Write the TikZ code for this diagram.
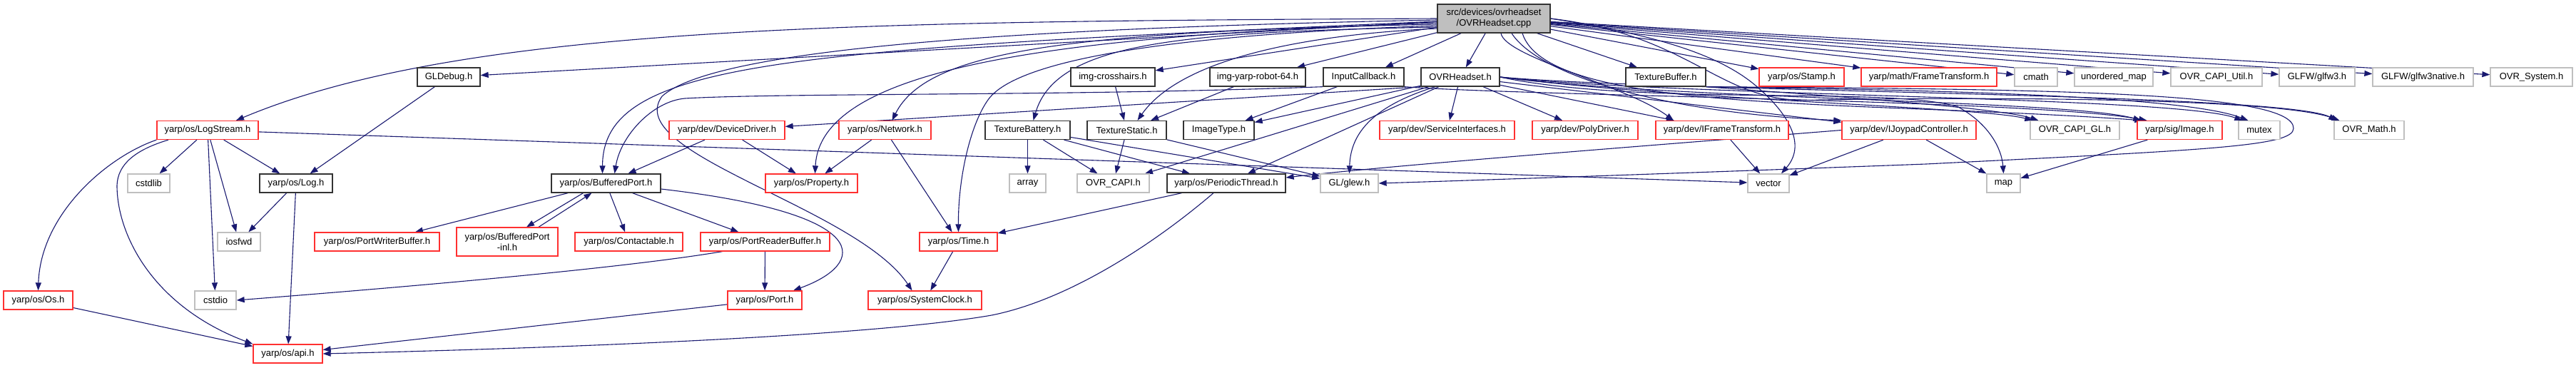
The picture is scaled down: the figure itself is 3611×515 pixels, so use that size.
\documentclass[tikz,border=0pt]{standalone}
\usepackage{fontspec}
\setmainfont{Liberation Sans}
\usetikzlibrary{arrows.meta}
\definecolor{edgeblue}{HTML}{191970}
\definecolor{truncred}{HTML}{FF3030}
\definecolor{sysgray}{HTML}{BFBFBF}
\pgfdeclarelayer{back}
\pgfdeclarelayer{edges}
\pgfsetlayers{back,edges,main}

\begin{document}
\begin{tikzpicture}[
    x=1pt, y=-1pt,
    font=\fontsize{13}{15}\selectfont,
    hdr/.style={draw=black!80, fill=white, line width=1.3pt, minimum height=26pt, inner sep=2pt},
    trunc/.style={hdr, draw=truncred},
    sys/.style={hdr, draw=sysgray},
    wd/.style={minimum width=#1pt},
    dep/.style={draw=edgeblue, line width=1.1pt, -{Triangle[length=11pt,width=8pt]}}
]
\useasboundingbox (0,0) rectangle (3611,515);
\begin{pgfonlayer}{back}
\fill[white] (0,0) rectangle (3611,515);
\end{pgfonlayer}

\node[hdr, fill=sysgray, wd=158, minimum height=40pt, align=center] (top) at (2094,26) {src/devices/ovrheadset\\/OVRHeadset.cpp};

\node[hdr, wd=88] (gldebug) at (629,108) {GLDebug.h};
\node[hdr, wd=118] (imgcross) at (1560,108) {img-crosshairs.h};
\node[hdr, wd=134] (imgrobot) at (1763,108) {img-yarp-robot-64.h};
\node[hdr, wd=113] (inputcb) at (1911.5,108) {InputCallback.h};
\node[hdr, wd=110] (ovrh) at (2047,108) {OVRHeadset.h};
\node[hdr, wd=112] (texbuf) at (2335,108) {TextureBuffer.h};
\node[trunc, wd=119] (stamp) at (2525.5,108) {yarp/os/Stamp.h};
\node[trunc, wd=190] (frametf) at (2704,108) {yarp/math/FrameTransform.h};
\node[sys, wd=60] (cmath) at (2854,108) {cmath};
\node[sys, wd=110] (umap) at (2963,108) {unordered\_map};
\node[sys, wd=128] (capiutil) at (3107,108) {OVR\_CAPI\_Util.h};
\node[sys, wd=106] (glfw) at (3248,108) {GLFW/glfw3.h};
\node[sys, wd=141] (glfwnat) at (3396.5,108) {GLFW/glfw3native.h};
\node[sys, wd=115] (ovrsys) at (3548.5,108) {OVR\_System.h};

\node[trunc, wd=142] (logstream) at (291,182.5) {yarp/os/LogStream.h};
\node[trunc, wd=162] (devdrv) at (1019,182.5) {yarp/dev/DeviceDriver.h};
\node[trunc, wd=129] (network) at (1240.5,182.5) {yarp/os/Network.h};
\node[hdr, wd=119] (texbat) at (1440.5,182.5) {TextureBattery.h};
\node[hdr, wd=111] (texstat) at (1579.5,182.5) {TextureStatic.h};
\node[hdr, wd=99] (imgtype) at (1708.5,182.5) {ImageType.h};
\node[trunc, wd=189] (servif) at (2028.5,182.5) {yarp/dev/ServiceInterfaces.h};
\node[trunc, wd=148] (polydrv) at (2222,182.5) {yarp/dev/PolyDriver.h};
\node[trunc, wd=186] (iframetf) at (2414,182.5) {yarp/dev/IFrameTransform.h};
\node[trunc, wd=188] (ijoypad) at (2676,182.5) {yarp/dev/IJoypadController.h};
\node[sys, wd=125] (capigl) at (2908.5,182.5) {OVR\_CAPI\_GL.h};
\node[trunc, wd=119] (sigimage) at (3055.5,182.5) {yarp/sig/Image.h};
\node[sys, wd=58] (mutex) at (3167,182.5) {mutex};
\node[sys, wd=98] (ovrmath) at (3321,182.5) {OVR\_Math.h};

\node[sys, wd=59] (cstdlib) at (208.5,257) {cstdlib};
\node[hdr, wd=102] (logh) at (415,257) {yarp/os/Log.h};
\node[hdr, wd=153] (bufport) at (849.5,257) {yarp/os/BufferedPort.h};
\node[trunc, wd=129] (property) at (1137.5,257) {yarp/os/Property.h};
\node[sys, wd=51] (array) at (1440.5,257) {array};
\node[sys, wd=101] (ovrcapi) at (1560.5,257) {OVR\_CAPI.h};
\node[hdr, wd=166] (pthread) at (1719,257) {yarp/os/PeriodicThread.h};
\node[sys, wd=81] (glew) at (1891.5,257) {GL/glew.h};
\node[sys, wd=58] (vector) at (2479,257) {vector};
\node[sys, wd=47] (map) at (2808.5,257) {map};

\node[sys, wd=60] (iosfwd) at (335,339) {iosfwd};
\node[trunc, wd=175] (pwbuf) at (528.5,339) {yarp/os/PortWriterBuffer.h};
\node[trunc, wd=142, minimum height=40pt, align=center] (bpinl) at (711,339) {yarp/os/BufferedPort\\-inl.h};
\node[trunc, wd=151] (contact) at (881.5,339) {yarp/os/Contactable.h};
\node[trunc, wd=181] (prbuf) at (1072.5,339) {yarp/os/PortReaderBuffer.h};
\node[trunc, wd=109] (time) at (1343.5,339) {yarp/os/Time.h};

\node[trunc, wd=97] (osh) at (53.5,421) {yarp/os/Os.h};
\node[sys, wd=58] (cstdio) at (302,421) {cstdio};
\node[trunc, wd=104] (port) at (1072,421) {yarp/os/Port.h};
\node[trunc, wd=159] (sysclock) at (1296.5,421) {yarp/os/SystemClock.h};

\node[trunc, wd=97] (api) at (403.5,496) {yarp/os/api.h};

\begin{pgfonlayer}{edges}
\draw[dep] (top) -- (gldebug);
\draw[dep] (top.west) .. controls (1200,30) and (650,35) .. ([xshift=40pt]logstream.north);
\draw[dep] ([yshift=-4pt]top.west) .. controls (1100,70) and (845,85) .. ([xshift=-5pt]bufport.north);
\draw[dep] ([yshift=-2pt]top.west) .. controls (1400,40) and (1000,70) .. (928,135) .. controls (870,215) and (1200,290) .. ([xshift=-18pt]sysclock.north);
\draw[dep] ([yshift=-6pt]top.west) .. controls (1500,50) and (1150,90) .. ([xshift=5pt]property.north);
\draw[dep] ([yshift=-8pt]top.west) .. controls (1500,45) and (1300,70) .. ([xshift=10pt]network.north);
\draw[dep] ([yshift=-10pt]top.west) .. controls (1600,50) and (1420,90) .. (1385,140) .. controls (1360,175) and (1343,250) .. (time.north);
\draw[dep] ([yshift=-12pt]top.west) .. controls (1650,45) and (1480,60) .. ([xshift=8pt]texbat.north);
\draw[dep] ([yshift=-14pt]top.west) .. controls (1800,50) and (1650,90) .. ([xshift=15pt]texstat.north);
\draw[dep] (top) -- (imgcross);
\draw[dep] (top) -- (imgrobot);
\draw[dep] (top) -- (inputcb);
\draw[dep] (top) -- (ovrh);
\draw[dep] (top) -- (texbuf);
\draw[dep] (top) -- (stamp);
\draw[dep] (top) -- (frametf);
\draw[dep] (top) -- (cmath);
\draw[dep] (top) -- (umap);
\draw[dep] (top) -- (capiutil);
\draw[dep] (top) -- (glfw);
\draw[dep] (top) -- (glfwnat);
\draw[dep] (top) -- (ovrsys);
\draw[dep] ([xshift=10pt]top.south) .. controls (2110,80) and (2280,120) .. ([xshift=-68pt]iframetf.north);
\draw[dep] ([xshift=25pt]top.south) .. controls (2160,110) and (2350,160) .. (ijoypad.north west);
\draw[dep] ([xshift=40pt]top.south) .. controls (2170,160) and (2600,140) .. ([xshift=8pt]sigimage.north west);
\draw[dep] (top.east) .. controls (2330,50) and (2420,80) .. (2470,128) .. controls (2500,155) and (2535,200) .. ([xshift=18pt]vector.north);
\draw[dep] (top.east) .. controls (2380,50) and (2410,150) .. (2550,140) .. controls (2850,135) and (3200,140) .. ([xshift=8pt]ovrmath.north west);

\draw[dep] (ovrh.south west) -- (devdrv);
\draw[dep] (ovrh) -- (imgtype);
\draw[dep] (ovrh) -- (ovrcapi);
\draw[dep] (ovrh) -- (pthread);
\draw[dep] ([xshift=-35pt]ovrh.south) .. controls (1920,150) and (1893,190) .. (glew.north);
\draw[dep] (ovrh) -- (servif);
\draw[dep] (ovrh) -- (polydrv);
\draw[dep] (ovrh) -- (iframetf);
\draw[dep] (ovrh) -- (ijoypad);
\draw[dep] (ovrh.east) .. controls (2350,140) and (2780,150) .. ([xshift=4pt]capigl.north west);
\draw[dep] (ovrh.east) .. controls (2350,140) and (2900,140) .. ([xshift=6pt]sigimage.north west);
\draw[dep] (ovrh.east) .. controls (2350,135) and (3050,135) .. ([xshift=6pt]mutex.north west);
\draw[dep] (ovrh.east) .. controls (2350,130) and (3200,130) .. ([xshift=4pt]ovrmath.north west);
\draw[dep] (ovrh.east) .. controls (2300,150) and (2650,120) .. (2745,150) .. controls (2790,175) and (2806,210) .. (map.north);

\draw[dep] (inputcb) -- (imgtype);
\draw[dep] (inputcb.south west) .. controls (1500,135) and (1100,130) .. (960,138) .. controls (915,142) and (870,190) .. ([xshift=12pt]bufport.north);
\draw[dep] (inputcb.south east) .. controls (2150,135) and (2850,140) .. ([xshift=14pt]sigimage.north west);

\draw[dep] (texbuf.south east) .. controls (2500,130) and (2800,150) .. ([xshift=12pt]capigl.north west);
\draw[dep] (texbuf.south east) .. controls (2600,125) and (3050,130) .. ([xshift=14pt]mutex.north west);
\draw[dep] (texbuf.south east) .. controls (2900,125) and (3215,130) .. (3215,180) .. controls (3215,205) and (3100,210) .. (2700,230) .. controls (2300,245) and (2000,255) .. (glew.east);

\draw[dep] (imgcross) -- (texstat);
\draw[dep] (imgrobot) -- (texstat);
\draw[dep] (texbat) -- (array);
\draw[dep] (texbat) -- (ovrcapi);
\draw[dep] (texbat) -- (pthread);
\draw[dep] (texbat) -- (glew);
\draw[dep] (texstat) -- (ovrcapi);
\draw[dep] (texstat) -- (glew);

\draw[dep] (iframetf) -- (vector);
\draw[dep] (ijoypad) -- (vector);
\draw[dep] (ijoypad) -- (map);
\draw[dep] (ijoypad.west) .. controls (2300,205) and (1950,232) .. ([yshift=8pt]pthread.east);
\draw[dep] (sigimage) -- (map);

\draw[dep] (logstream) -- (vector);
\draw[dep] (logstream) -- (cstdlib);
\draw[dep] (logstream) -- (logh);
\draw[dep] (logstream) -- (iosfwd);
\draw[dep] (logstream) -- (cstdio);
\draw[dep] (logstream.south west) .. controls (150,220) and (57,300) .. (osh.north);
\draw[dep] ([xshift=-55pt]logstream.south) .. controls (190,210) and (165,230) .. (164,260) .. controls (164,330) and (215,430) .. (api.north west);
\draw[dep] (gldebug) -- (logh);
\draw[dep] (logh) -- (iosfwd);
\draw[dep] (logh) -- (api);
\draw[dep] (osh) -- (api);

\draw[dep] (devdrv) -- (bufport);
\draw[dep] (devdrv) -- (property);
\draw[dep] (network) -- (property);
\draw[dep] (network) -- (time);

\draw[dep] (bufport) -- (pwbuf);
\draw[dep] ([xshift=-32pt]bufport.south) -- ([xshift=27pt]bpinl.north);
\draw[dep] ([xshift=44pt]bpinl.north) -- ([xshift=-20pt]bufport.south);
\draw[dep] (bufport) -- (contact);
\draw[dep] (bufport) -- (prbuf);
\draw[dep] ([yshift=-8pt]bufport.east) .. controls (1230,300) and (1215,370) .. ([xshift=40pt]port.north);
\draw[dep] ([xshift=-60pt]prbuf.south) .. controls (880,375) and (600,400) .. (cstdio.east);
\draw[dep] (prbuf) -- (port);
\draw[dep] (port) -- (api);

\draw[dep] (pthread) -- (time);
\draw[dep] ([xshift=-18pt]pthread.south) .. controls (1620,340) and (1500,420) .. (1390,442) .. controls (1200,475) and (700,490) .. (api.east);
\draw[dep] (time) -- (sysclock);
\end{pgfonlayer}
\end{tikzpicture}
\end{document}
